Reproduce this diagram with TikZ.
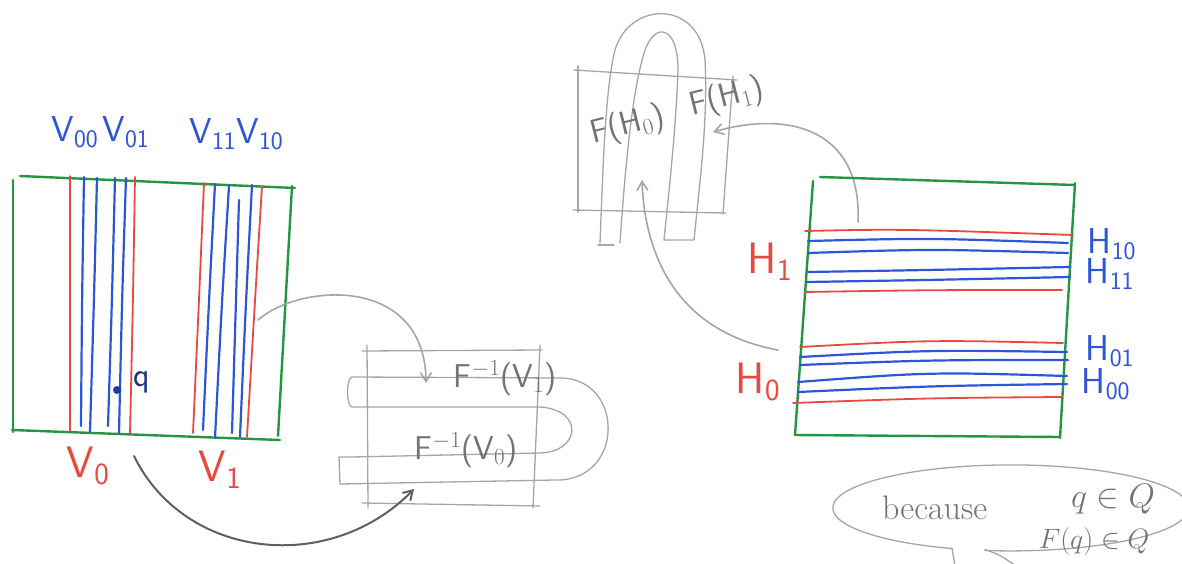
\RequirePackage{fix-cm}
\documentclass[tikz,border=0pt]{standalone}
\usetikzlibrary{arrows.meta}
\definecolor{pgreen}{RGB}{35,150,65}
\definecolor{pred}{RGB}{232,72,62}
\definecolor{pblue}{RGB}{45,85,215}
\definecolor{pgray}{RGB}{165,165,165}
\definecolor{tgray}{RGB}{115,115,115}
\definecolor{dgray}{RGB}{95,95,95}
\tikzset{
  gframe/.style={draw=pgreen, line width=2.4pt},
  rline/.style={draw=pred, line width=1.8pt},
  bline/.style={draw=pblue, line width=2.2pt},
  pencil/.style={draw=pgray, line width=1.3pt},
  parrow/.style={draw=pgray, line width=1.6pt, -{Straight Barb[length=9pt,width=11pt]}},
  darrow/.style={draw=dgray, line width=2pt, -{Straight Barb[length=9pt,width=11pt]}},
  blab/.style={text=pblue, font=\fontsize{36}{40}\selectfont\sffamily, inner sep=0pt},
  rlab/.style={text=pred, font=\fontsize{44}{46}\selectfont\sffamily, inner sep=0pt},
  glab/.style={text=tgray, font=\fontsize{33}{36}\selectfont\sffamily, inner sep=0pt},
  hlab/.style={text=tgray, font=\fontsize{34}{36}\selectfont, inner sep=0pt}
}
\begin{document}
\begin{tikzpicture}[x=1pt,y=-1pt,line cap=round,line join=round]
\useasboundingbox (0,0) rectangle (1182,564);
% ---------- left square ----------
\draw[gframe] (20,176) -- (295,188);
\draw[gframe] (13,180) -- (13,432);
\draw[gframe] (292,186) -- (278,436);
\draw[gframe] (12,430) -- (280,440);
% V0 band
\draw[rline] (70,176) -- (70,431);
\draw[bline] (84,177) .. controls (82,300) .. (81,426);
\draw[bline] (97,178) .. controls (94,300) .. (90,432);
\draw[bline] (115,178) .. controls (112,300) .. (108,426);
\draw[bline] (126,178) .. controls (122,300) .. (119,433);
\draw[rline] (135,177) .. controls (133,300) .. (130,434);
% V1 band
\draw[rline] (204,183) .. controls (199,300) .. (193,433);
\draw[bline] (215,184) .. controls (209,300) .. (203,430);
\draw[bline] (229,186) .. controls (222,300) .. (215,438);
\draw[bline] (239,200) .. controls (236,300) .. (232,433);
\draw[bline] (252,185) .. controls (246,300) .. (240,437);
\draw[rline] (262,186) .. controls (255,300) .. (247,437);
% point q
\fill[pblue!70!black] (117,390) circle (4pt);
\node[text=pblue!60!black, font=\fontsize{34}{36}\selectfont\sffamily, inner sep=0pt] (qlab) at (142,382) {q};
% labels
\node[blab] (v00) at (75,132) {V$_{\mathsf{00}}$};
\node[blab] (v01) at (126,132) {V$_{\mathsf{01}}$};
\node[blab] (v11) at (213,134) {V$_{\mathsf{11}}$};
\node[blab] (v10) at (260,134) {V$_{\mathsf{10}}$};
\node[rlab] (v0) at (88,466) {V$_{\mathsf{0}}$};
\node[rlab] (v1) at (220,470) {V$_{\mathsf{1}}$};
% ---------- middle: preimage ----------
\draw[pencil] (367,345) -- (368,508);
\draw[pencil] (362,351) -- (542,350);
\draw[pencil] (540,345) -- (533,508);
\draw[pencil] (362,503) -- (540,506);
\draw[pencil] (352,377) -- (560,378) .. controls (625,378) and (625,482) .. (555,480)
  -- (340,484) -- (339,457) -- (352,457);
\draw[pencil] (352,377) .. controls (346,378) and (346,406) .. (352,407)
  -- (540,407) .. controls (585,410) and (580,452) .. (540,453) -- (352,457);
\node[glab] (fv1) at (505,378) {F$^{-1}$(V$_{1}$)};
\node[glab] (fv0) at (466,450) {F$^{-1}$(V$_{0}$)};
\coordinate (sA) at (258,320);
\coordinate (tA) at (426,383);
\coordinate (sB) at (134,456);
\coordinate (tB) at (414,489);
\draw[parrow] (sA) .. controls (300,283) and (425,275) .. (tA);
\draw[darrow] (sB) .. controls (185,560) and (330,575) .. (tB);
% ---------- right: image ----------
\draw[pencil] (578,66) -- (578,212);
\draw[pencil] (574,70) -- (737,80);
\draw[pencil] (733,76) -- (723,214);
\draw[pencil] (573,210) -- (726,213);
\draw[pencil] (600,243) .. controls (603,170) and (605,90) .. (615,50)
  .. controls (630,0) and (700,0) .. (705,60) .. controls (708,120) and (700,180) .. (694,240) -- (664,240);
\draw[pencil] (598,245) -- (614,245);
\draw[pencil] (620,243) .. controls (625,170) and (632,90) .. (645,50)
  .. controls (655,22) and (678,25) .. (678,70) .. controls (676,130) and (668,200) .. (664,240);
\node[glab, rotate=14] (fh0) at (628,126) {F(H$_{0}$)};
\node[glab, rotate=14] (fh1) at (727,98) {F(H$_{1}$)};
\coordinate (sC) at (858,222);
\coordinate (tC) at (713,132);
\coordinate (sD) at (778,350);
\coordinate (tD) at (642,180);
\draw[parrow] (sC) .. controls (862,130) and (790,110) .. (tC);
\draw[parrow] (sD) .. controls (680,332) and (645,260) .. (tD);
% right square
\draw[gframe] (820,177) -- (1075,185);
\draw[gframe] (813,181) -- (795,435);
\draw[gframe] (1075,183) -- (1060,438);
\draw[gframe] (795,435) -- (1060,437);
% H1 band
\draw[rline] (805,231) .. controls (900,229) .. (1073,235);
\draw[bline] (808,241) .. controls (930,238) .. (1068,243);
\draw[bline] (808,253) .. controls (930,249) .. (1068,253);
\draw[bline] (808,272) .. controls (930,270) .. (1070,267);
\draw[bline] (807,282) .. controls (930,280) .. (1070,277);
\draw[rline] (805,292) .. controls (930,290) .. (1062,290);
% H0 band
\draw[rline] (800,347) .. controls (930,340) .. (1063,343);
\draw[bline] (800,357) .. controls (930,350) .. (1067,352);
\draw[bline] (800,365) .. controls (930,360) .. (1068,360);
\draw[bline] (798,382) .. controls (930,372) .. (1067,376);
\draw[bline] (798,392) .. controls (930,386) .. (1067,384);
\draw[rline] (793,403) .. controls (930,398) .. (1062,397);
\node[blab] (h10) at (1112,244) {H$_{\mathsf{10}}$};
\node[blab] (h11) at (1110,274) {H$_{\mathsf{11}}$};
\node[blab] (h01) at (1110,351) {H$_{\mathsf{01}}$};
\node[blab] (h00) at (1106,384) {H$_{\mathsf{00}}$};
\node[rlab] (h1) at (770,262) {H$_{\mathsf{1}}$};
\node[rlab] (h0) at (758,382) {H$_{\mathsf{0}}$};
% ---------- speech bubble ----------
\draw[pencil] (952,548.5) arc[start angle=109.3, end angle=458.4, x radius=178, y radius=43];
\coordinate (t1) at (952,548.5);
\coordinate (t2) at (985,549.5);
\coordinate (t1e) at (955,566);
\coordinate (t2e) at (1016,566);
\draw[pencil] (t1) -- (t1e);
\draw[pencil] (t2) .. controls (1000,555) .. (t2e);
\node[hlab, anchor=west] (bec) at (882,508) {because};
\node[hlab] (qinQ) at (1113,499) {$q\in Q$};
\node[hlab, font=\fontsize{28}{30}\selectfont] (FqinQ) at (1094,541) {$F(q)\in Q$};
\end{tikzpicture}
\end{document}
